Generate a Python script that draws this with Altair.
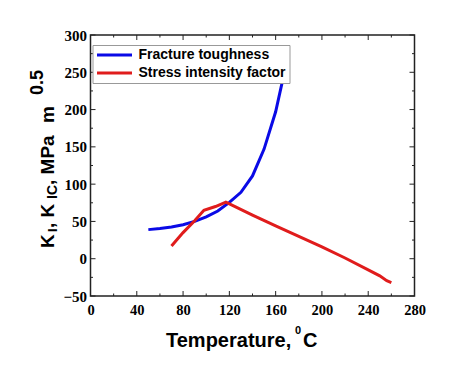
import altair as alt
import pandas as pd

# ---- data ----
ft_temp = [50, 60, 70, 80, 90, 100, 110, 120, 130, 140, 150, 160, 170]
ft_k = [39, 40.5, 42.5, 45.5, 50, 56, 64, 75.5, 89, 111, 147, 197, 267]

sif_temp = [70, 80, 90, 98, 108, 117, 140, 160, 180, 200, 220, 240, 250, 256, 260]
sif_k = [17, 35, 51, 65, 70, 76, 58.5, 44, 30, 16, 1, -15, -23, -29.5, -32]

series_names = ["Fracture toughness", "Stress intensity factor"]
series_colors = ["#0a0ae6", "#e01c1c"]

x_major = [0, 40, 80, 120, 160, 200, 240, 280]
x_minor = [20, 60, 100, 140, 180, 220, 260]
y_major = [-50, 0, 50, 100, 150, 200, 250, 300]
y_minor = [-25, 25, 75, 125, 175, 225, 275]

W, H = 324, 261

df = pd.concat([
    pd.DataFrame({"t": ft_temp, "k": ft_k, "s": series_names[0]}),
    pd.DataFrame({"t": sif_temp, "k": sif_k, "s": series_names[1]}),
])

xs = alt.Scale(domain=[0, 280], nice=False, zero=False)
ys = alt.Scale(domain=[-50, 300], nice=False, zero=False)

x_axis = alt.Axis(
    values=x_major, ticks=False, domain=False, grid=False, title=None,
    labelFont="Liberation Serif", labelFontWeight="bold", labelFontSize=14.5,
    labelColor="black", labelPadding=7, labelFlush=False)
y_axis = alt.Axis(
    values=y_major, ticks=False, domain=False, grid=False, title=None,
    labelFont="Liberation Serif", labelFontWeight="bold", labelFontSize=15,
    labelColor="black", labelPadding=4, labelFlush=False)

lines = alt.Chart(df).mark_line(strokeWidth=3).encode(
    x=alt.X("t:Q", scale=xs, axis=x_axis),
    y=alt.Y("k:Q", scale=ys, axis=y_axis),
    color=alt.Color("s:N", scale=alt.Scale(domain=series_names, range=series_colors),
                    legend=alt.Legend(
                        title=None, orient="none", legendX=2, legendY=10,
                        symbolType="M-3.5,0H3.5", symbolSize=100, symbolStrokeWidth=3,
                        symbolOffset=12, labelOffset=17,
                        labelFont="Liberation Sans", labelFontWeight="bold",
                        labelFontSize=14, labelColor="black", labelLimit=300,
                        rowPadding=4, padding=3, fillColor="white",
                        strokeColor="#999999")),
)


def xticks(vals, L):
    d = pd.DataFrame({"t": vals})
    b = alt.Chart(d).mark_rule(color="#222", strokeWidth=1).encode(
        x=alt.X("t:Q", scale=xs, axis=x_axis), y=alt.value(H), y2=alt.value(H - L))
    t = alt.Chart(d).mark_rule(color="#222", strokeWidth=1).encode(
        x=alt.X("t:Q", scale=xs, axis=x_axis), y=alt.value(0), y2=alt.value(L))
    return [b, t]


def yticks(vals, L):
    d = pd.DataFrame({"k": vals})
    l = alt.Chart(d).mark_rule(color="#222", strokeWidth=1).encode(
        y=alt.Y("k:Q", scale=ys, axis=y_axis), x=alt.value(0), x2=alt.value(L))
    r = alt.Chart(d).mark_rule(color="#222", strokeWidth=1).encode(
        y=alt.Y("k:Q", scale=ys, axis=y_axis), x=alt.value(W), x2=alt.value(W - L))
    return [l, r]


def txt(s, x, y, size, angle=0):
    kw = dict(text=s, align="left", baseline="alphabetic", font="Liberation Sans",
              fontWeight="bold", fontSize=size, color="black")
    if angle:
        kw["angle"] = angle
    return alt.Chart(pd.DataFrame({"a": [0]})).mark_text(**kw).encode(
        x=alt.value(x), y=alt.value(y))


titles = [
    txt("Temperature,", 75.5, 312, 20),
    txt("0", 204.5, 299, 11),
    txt("C", 212.5, 312, 20),
    txt("K", -37, 213, 19, 270),
    txt("I", -33.5, 197, 13, 270),
    txt(", K", -37, 193, 19, 270),
    txt("IC", -33.8, 164, 14, 270),
    txt(", MPa", -37, 150, 19, 270),
    txt("m", -37, 88, 19, 270),
    txt("0.5", -47.5, 60, 18, 270),
]

layers = [lines] + xticks(x_major, 5) + xticks(x_minor, 2.5) + yticks(y_major, 5) + yticks(y_minor, 2.5) + titles

chart = alt.layer(*layers).properties(
    width=W, height=H,
    autosize=alt.AutoSizeParams(type="none"),
    padding={"left": 82.5, "top": 27, "right": 27, "bottom": 72},
).configure_view(stroke="#222", strokeWidth=1.5)

chart.save("out.html", embed_options={"renderer": "svg", "actions": False})
